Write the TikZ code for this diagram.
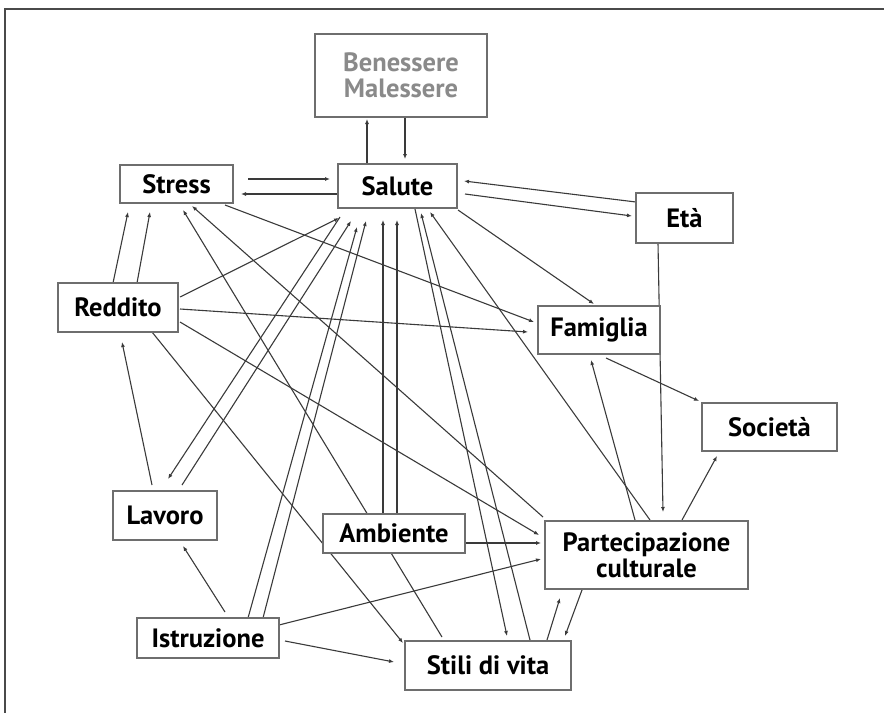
\documentclass[tikz,border=0pt]{standalone}
\usepackage{fontspec}
\setmainfont{PT Sans}
\usetikzlibrary{arrows.meta}
\definecolor{edgecol}{HTML}{3A3A3A}
\definecolor{boxcol}{HTML}{6E6E6E}
\definecolor{framecol}{HTML}{4A4A4A}
\definecolor{softtext}{HTML}{8A8A8A}
\pgfdeclarelayer{bg}
\pgfsetlayers{bg,main}
\begin{document}
\begin{tikzpicture}[x=1pt,y=-1pt,
  box/.style={draw=boxcol, line width=1.5pt, fill=white, inner sep=0pt,
    font=\fontsize{26.5}{28}\selectfont\bfseries, text=black, align=center},
  link/.style={draw=edgecol, line width=1.1pt, -{Latex[length=5pt,width=4pt]}},
]
\useasboundingbox (0,0) rectangle (884,713);
% outer frame (top and left edges)
\coordinate (frameTL) at (5,9);
\coordinate (frameTR) at (884,9);
\coordinate (frameBL) at (5,713);
\draw[framecol, line width=2.5pt] (frameTR) -- (frameTL) -- (frameBL);

% boxes
\node[box, minimum width=172pt, minimum height=83pt, text=softtext] (ben) at (401,75.5) {Benessere\\[-2pt]Malessere};
\node[box, minimum width=119pt, minimum height=44pt] (sal) at (397.5,186) {Salute};
\node[box, minimum width=113pt, minimum height=38pt] (str) at (176.5,184) {Stress};
\node[box, minimum width=97pt, minimum height=50pt] (eta) at (684.5,218) {Età};
\node[box, minimum width=120pt, minimum height=49pt] (red) at (118,307.5) {Reddito};
\node[box, minimum width=122pt, minimum height=48pt] (fam) at (599,330) {Famiglia};
\node[box, minimum width=135pt, minimum height=48pt] (soc) at (769.5,427) {Società};
\node[box, minimum width=203pt, minimum height=68pt] (par) at (646.5,555) {Partecipazione\\[-2pt]culturale};
\node[box, minimum width=104pt, minimum height=49pt] (lav) at (165,515.5) {Lavoro};
\node[box, minimum width=142pt, minimum height=39pt] (amb) at (394,533.5) {Ambiente};
\node[box, minimum width=142pt, minimum height=40pt] (ist) at (208,638) {Istruzione};
\node[box, minimum width=166pt, minimum height=49pt] (sti) at (488,665.5) {Stili di vita};

% connectors, kept behind the boxes
\begin{pgfonlayer}{bg}
\draw[link] ([shift={(-30.5,-22)}]sal.center) -- ([shift={(-34,43.5)}]ben.center);
\draw[link] ([shift={(4,41.5)}]ben.center) -- ([shift={(7.5,-27)}]sal.center);
\draw[link] ([shift={(71.5,-5)}]str.center) -- ([shift={(-67.5,-7)}]sal.center);
\draw[link] ([shift={(-59.5,8)}]sal.center) -- ([shift={(64.5,10)}]str.center);
\draw[link] ([shift={(-48.5,-16)}]eta.center) -- ([shift={(66.5,-5)}]sal.center);
\draw[link] ([shift={(67.5,8)}]sal.center) -- ([shift={(-52.5,-2)}]eta.center);
\draw[link] ([shift={(60.5,24)}]sal.center) -- ([shift={(-5,-26)}]fam.center);
\draw[link] ([shift={(-26.5,25)}]eta.center) -- ([shift={(16.5,-43)}]par.center);
\draw[link] ([shift={(7,28)}]fam.center) -- ([shift={(-70.5,-26)}]soc.center);
\draw[link] ([shift={(-11.5,-35)}]par.center) -- ([shift={(-8,30)}]fam.center);
\draw[link] ([shift={(35.5,-35)}]par.center) -- ([shift={(-52.5,29)}]soc.center);
\draw[link] ([shift={(3.5,-35)}]par.center) -- ([shift={(32.5,26)}]sal.center);
\draw[link] ([shift={(17.5,23)}]sal.center) -- ([shift={(19,-29.5)}]sti.center);
\draw[link] ([shift={(42,-25.5)}]sti.center) -- ([shift={(23.5,27)}]sal.center);
\draw[link] ([shift={(-103.5,-38)}]par.center) -- ([shift={(15.5,22)}]str.center);
\draw[link] ([shift={(-46,-28.5)}]sti.center) -- ([shift={(6.5,26)}]str.center);
\draw[link] ([shift={(48.5,21)}]str.center) -- ([shift={(-65,-8)}]fam.center);
\draw[link] ([shift={(62,1.5)}]red.center) -- ([shift={(-71,2)}]fam.center);
\draw[link] ([shift={(62,-10.5)}]red.center) -- ([shift={(-58.5,32)}]sal.center);
\draw[link] ([shift={(-57.5,31)}]sal.center) -- ([shift={(3,-36.5)}]lav.center);
\draw[link] ([shift={(17,-30.5)}]lav.center) -- ([shift={(-46.5,35)}]sal.center);
\draw[link] ([shift={(40,-20)}]ist.center) -- ([shift={(-40.5,41)}]sal.center);
\draw[link] ([shift={(55,-20)}]ist.center) -- ([shift={(-31.5,35)}]sal.center);
\draw[link] ([shift={(-11,-19.5)}]amb.center) -- ([shift={(-14.5,34)}]sal.center);
\draw[link] ([shift={(3,-19.5)}]amb.center) -- ([shift={(-0.5,34)}]sal.center);
\draw[link] ([shift={(62,14.5)}]red.center) -- ([shift={(-107.5,-20)}]par.center);
\draw[link] ([shift={(71,9.5)}]amb.center) -- ([shift={(-105.5,-12)}]par.center);
\draw[link] ([shift={(71,-13)}]ist.center) -- ([shift={(-105.5,4)}]par.center);
\draw[link] ([shift={(77,3)}]ist.center) -- ([shift={(-94,-3.5)}]sti.center);
\draw[link] ([shift={(17,-26)}]ist.center) -- ([shift={(18,30.5)}]lav.center);
\draw[link] ([shift={(-13,-30.5)}]lav.center) -- ([shift={(4,34.5)}]red.center);
\draw[link] ([shift={(-5,-24.5)}]red.center) -- ([shift={(-48.5,28)}]str.center);
\draw[link] ([shift={(19,-24.5)}]red.center) -- ([shift={(-26.5,28)}]str.center);
\draw[link] ([shift={(34,24.5)}]red.center) -- ([shift={(-85,-22.5)}]sti.center);
\draw[link] ([shift={(59,-25.5)}]sti.center) -- ([shift={(-86.5,43)}]par.center);
\draw[link] ([shift={(-64.5,35)}]par.center) -- ([shift={(77,-29.5)}]sti.center);
\end{pgfonlayer}
\end{tikzpicture}
\end{document}
